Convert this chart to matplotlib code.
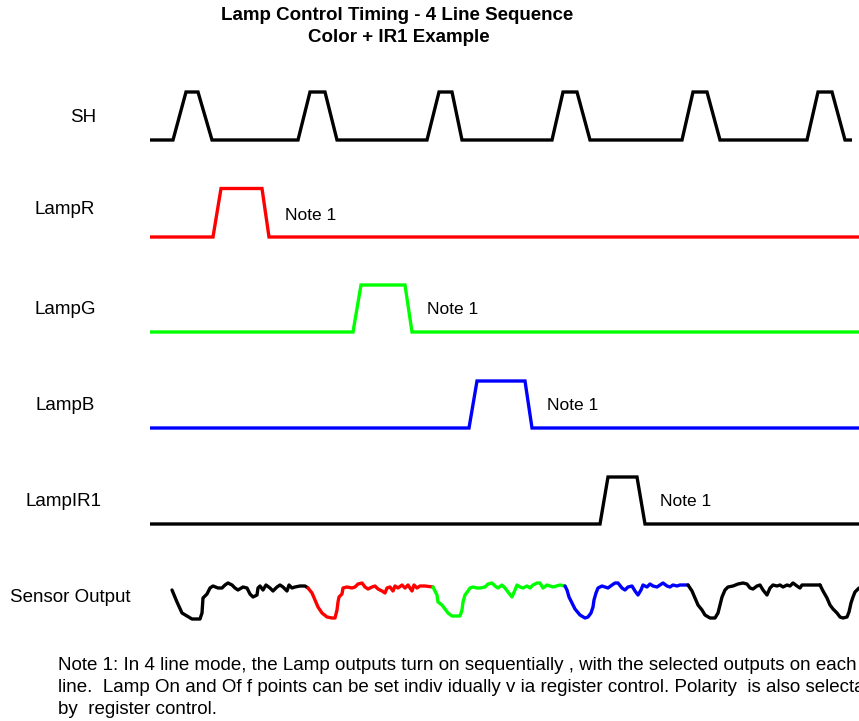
import matplotlib
matplotlib.use("Agg")
import matplotlib.pyplot as plt

plt.rcParams['font.family'] = ['Liberation Sans', 'DejaVu Sans']

# ---------------- data ----------------
title_lines = ["Lamp Control Timing - 4 Line Sequence", "Color + IR1 Example"]
signal_names = ["SH", "LampR", "LampG", "LampB", "LampIR1", "Sensor Output"]

# SH strobe: time points and logic levels
sh_t = [150, 173, 186, 198, 212, 298, 310, 325, 337, 427, 439, 452, 462,
        552, 563, 577, 590, 682, 693, 707, 720, 807, 818, 832, 845, 852]
sh_v = [0, 0, 1, 1, 0, 0, 1, 1, 0, 0, 1, 1, 0,
        0, 1, 1, 0, 0, 1, 1, 0, 0, 1, 1, 0, 0]

lampR_t = [150, 213, 221, 262, 269, 859]
lampR_v = [0, 0, 1, 1, 0, 0]
lampG_t = [150, 353, 361, 405, 412, 859]
lampG_v = [0, 0, 1, 1, 0, 0]
lampB_t = [150, 469, 477, 525, 532, 859]
lampB_v = [0, 0, 1, 1, 0, 0]
lampIR1_t = [150, 600, 608, 637, 645, 859]
lampIR1_v = [0, 0, 1, 1, 0, 0]

note_label = "Note 1"

# Sensor output segments (time, level)
sens_k1_t = [172, 177, 182, 187, 192, 200, 202, 203, 207, 210, 213, 218, 222, 225, 228, 232,
             235, 238, 243, 247, 250, 253, 257, 258, 260, 263, 266, 270, 273, 277, 280, 283,
             287, 289, 292, 295, 300, 305, 308]
sens_k1_v = [30, 18, 7, 4, 1, 1, 7, 22, 26, 32, 34, 32, 32, 35, 37, 35,
             32, 30, 33, 32, 26, 23, 25, 32, 34, 30, 35, 32, 29, 33, 35, 33,
             29, 35, 32, 33, 34, 34, 32]
sens_r_t = [308, 312, 315, 318, 322, 327, 332, 335, 337, 338, 339, 342, 343, 347, 352, 355,
            358, 362, 365, 368, 372, 375, 378, 382, 385, 387, 390, 393, 395, 398, 402, 405,
            408, 412, 414, 417, 420, 425, 433]
sens_r_v = [32, 27, 20, 13, 7, 3, 2, 2, 10, 18, 23, 26, 32, 33, 32, 33,
            36, 37, 33, 31, 33, 34, 31, 29, 27, 32, 33, 29, 34, 32, 35, 32,
            35, 29, 35, 32, 34, 34, 33]
sens_g_t = [433, 437, 438, 442, 445, 448, 452, 460, 462, 463, 465, 468, 470, 473, 477,
            480, 485, 488, 492, 495, 498, 502, 505, 508, 512, 515, 517, 520, 523, 527,
            530, 533, 537, 540, 543, 547, 550, 553, 560, 565]
sens_g_v = [33, 25, 18, 15, 11, 7, 4, 4, 10, 18, 25, 29, 32, 33, 32,
            32, 33, 36, 37, 34, 32, 35, 32, 28, 23, 30, 35, 33, 32, 34,
            32, 35, 37, 37, 32, 35, 34, 33, 35, 34]
sens_b_t = [565, 567, 569, 572, 575, 580, 585, 588, 591, 593, 594, 596, 598, 602, 605,
            608, 612, 615, 618, 622, 625, 628, 632, 635, 638, 641, 643, 647, 650, 653,
            657, 660, 663, 667, 670, 673, 677, 680, 685, 688]
sens_b_v = [34, 30, 23, 17, 11, 5, 2, 3, 7, 13, 20, 27, 32, 34, 33,
            32, 35, 37, 37, 32, 30, 33, 34, 29, 25, 30, 35, 33, 36, 34,
            33, 35, 37, 34, 33, 35, 34, 35, 35, 35]
sens_k2_t = [688, 692, 695, 698, 702, 705, 710, 715, 718, 720, 722, 725, 728, 733, 738,
             743, 747, 750, 753, 757, 760, 763, 767, 770, 773, 777, 780, 783, 787, 790,
             793, 797, 800, 802, 805, 810, 817, 820]
sens_k2_v = [35, 29, 22, 15, 10, 5, 2, 2, 7, 15, 23, 30, 33, 34, 36,
             37, 36, 32, 31, 34, 35, 30, 25, 32, 35, 34, 35, 33, 35, 34,
             37, 34, 32, 35, 35, 35, 35, 35]
sens_k3_t = [820, 823, 827, 830, 833, 837, 840, 843, 847, 849, 851, 853, 855, 859]
sens_k3_v = [35, 29, 22, 15, 11, 7, 3, 2, 3, 8, 17, 23, 28, 32]

note_lines = [
    "Note 1: In 4 line mode, the Lamp outputs turn on sequentially , with the selected outputs on each",
    "line.  Lamp On and Of f points can be set indiv idually v ia register control. Polarity  is also selectable",
    "by  register control.",
]

# ---------------- drawing ----------------
fig = plt.figure(figsize=(8.59, 7.21), dpi=100)
ax = fig.add_axes([0, 0, 1, 1])
ax.set_xlim(0, 859)
ax.set_ylim(721, 0)
ax.axis("off")

LW = 2.4

def draw_digital(t, v, base, amp, color):
    ax.plot(t, [base - amp * x for x in v], color=color, lw=LW,
            solid_joinstyle="miter", solid_capstyle="butt", clip_on=False)

draw_digital(sh_t, sh_v, 140, 48, "black")
draw_digital(lampR_t, lampR_v, 237, 48.5, "#ff0000")
draw_digital(lampG_t, lampG_v, 332, 47, "#00ff00")
draw_digital(lampB_t, lampB_v, 428, 47, "#0000ff")
draw_digital(lampIR1_t, lampIR1_v, 524, 47, "black")

sens_base = 620
for t, v, c in [(sens_k1_t, sens_k1_v, "black"), (sens_r_t, sens_r_v, "#ff0000"),
                (sens_g_t, sens_g_v, "#00ff00"), (sens_b_t, sens_b_v, "#0000ff"),
                (sens_k2_t, sens_k2_v, "black"), (sens_k3_t, sens_k3_v, "black")]:
    ax.plot(t, [sens_base - x for x in v], color=c, lw=LW,
            solid_joinstyle="round", solid_capstyle="round")

# labels
label_pos = [(83, 118), (65, 210), (65, 309), (65, 406), (63.5, 502), (70.5, 598)]
for name, (x, y) in zip(signal_names, label_pos):
    ax.text(x, y, name, ha="center", va="center", fontsize=13.5, color="black")

for (x, y) in [(285, 215), (427, 310), (547, 405), (660, 501)]:
    ax.text(x, y, note_label, ha="left", va="center", fontsize=12.5, color="black")

ax.text(397, 16, title_lines[0], ha="center", va="center", fontsize=13.5, fontweight="bold")
ax.text(399, 38, title_lines[1], ha="center", va="center", fontsize=13.5, fontweight="bold")

for i, line in enumerate(note_lines):
    ax.text(58, 665 + 22 * i, line, ha="left", va="center", fontsize=13.5, color="black")

fig.savefig("out.png", dpi=100)
